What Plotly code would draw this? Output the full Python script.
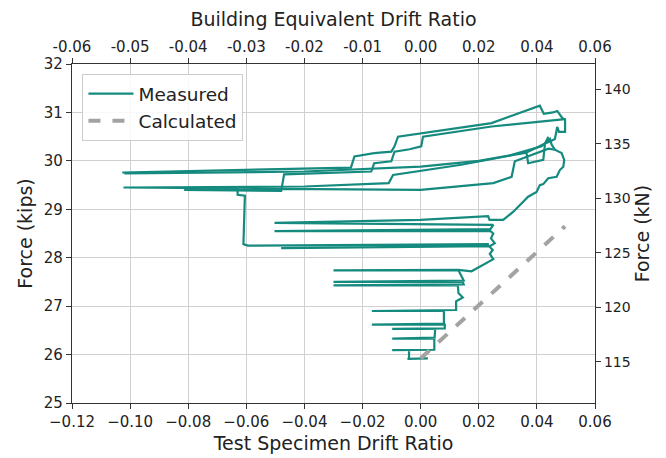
import plotly.graph_objects as go

KN_PER_KIP = 4.44822

# Measured response, stored as separate traced polylines (drift ratio, force in kips)
cyc_drift = [0.0000, 0.0025, -0.0045, -0.0040, -0.0040, -0.0098, 0.0047, 0.0047, -0.0098, 0.0048,
             0.0050, -0.0098, 0.0083, 0.0083, -0.0168, 0.0080, 0.0080, -0.0168, 0.0122, 0.0122,
             0.0145, 0.0130, 0.0128, -0.0300, 0.0148, 0.0145, -0.0300, 0.0148, 0.0130, -0.0300,
             0.0130, 0.0175, 0.0250, 0.0238, 0.0248, 0.0235, -0.0480, 0.0238, 0.0255, 0.0242,
             0.0250, 0.0240, -0.0503, 0.0240, 0.0250, -0.0503, 0.0000, 0.0232, 0.0237, 0.0284,
             0.0319, 0.0347, 0.0370, 0.0399, 0.0410, 0.0422, 0.0439, 0.0468, 0.0479, 0.0491,
             0.0494, 0.0485, 0.0462, 0.0451, 0.0445, 0.0416, 0.0300, 0.0140, -0.0095, -0.0110,
             -0.0400, -0.1023, -0.0630, -0.0630, -0.0605, -0.0610, -0.0595, 0.0235]
cyc_force = [25.92, 25.92, 25.91, 25.92, 26.09, 26.09, 26.10, 26.33, 26.33, 26.35,
             26.53, 26.53, 26.54, 26.62, 26.62, 26.64, 26.90, 26.90, 26.92, 27.10,
             27.18, 27.27, 27.43, 27.43, 27.45, 27.50, 27.50, 27.53, 27.74, 27.74,
             27.75, 27.72, 27.97, 28.08, 28.16, 28.24, 28.20, 28.24, 28.30, 28.40,
             28.50, 28.55, 28.55, 28.59, 28.68, 28.72, 28.78, 28.86, 28.78, 28.78,
             28.95, 29.12, 29.26, 29.36, 29.50, 29.52, 29.64, 29.67, 29.81, 29.88,
             30.02, 30.16, 30.23, 30.33, 30.45, 30.30, 30.10, 29.92, 29.71, 29.54,
             29.47, 29.45, 29.43, 29.30, 29.28, 28.28, 28.25, 28.28]

loop2_drift = [0.0497, 0.0244, 0.0008, 0.0002, -0.0038, -0.0090, -0.0101, -0.0160, -0.0170, -0.0470,
               -0.0480, -0.0814, -0.0480, 0.0000, 0.0250, 0.0313, 0.0324, 0.0382, 0.0440, 0.0462]
loop2_force = [30.86, 30.71, 30.50, 30.30, 30.24, 30.19, 29.99, 29.95, 29.78, 29.72,
               29.38, 29.40, 29.42, 29.40, 29.54, 29.67, 29.99, 30.12, 30.25, 30.23]

loop3_drift = [-0.1027, -0.0240, -0.0228, -0.0160, -0.0101, -0.0090, -0.0078, 0.0002, 0.0244, 0.0410,
               0.0424, 0.0455, 0.0470, 0.0488, 0.0497, 0.0497, 0.0476, 0.0470, 0.0462, 0.0445,
               0.0428, 0.0364, 0.0370, 0.0422, 0.0428, 0.0440]
loop3_force = [29.76, 29.86, 30.09, 30.16, 30.19, 30.30, 30.50, 30.57, 30.78, 31.14,
               30.97, 31.00, 31.03, 30.88, 30.86, 30.60, 30.60, 30.70, 30.45, 30.40,
               30.36, 30.17, 29.95, 30.02, 30.36, 30.50]

loop4_drift = [-0.1020, -0.0400, 0.0000, 0.0200, 0.0364]
loop4_force = [29.74, 29.78, 29.88, 30.00, 30.17]

calc_drift = [0.0, 0.0497]
calc_force = [25.92, 28.65]

x_ticks = [-0.12, -0.10, -0.08, -0.06, -0.04, -0.02, 0.00, 0.02, 0.04, 0.06]
x_ticktext = ["\u22120.12", "\u22120.10", "\u22120.08", "\u22120.06", "\u22120.04", "\u22120.02",
              "0.00", "0.02", "0.04", "0.06"]
top_ticktext = ["-0.06", "-0.05", "-0.04", "-0.03", "-0.02", "-0.01", "0.00", "0.02", "0.04", "0.06"]
kip_ticks = [25, 26, 27, 28, 29, 30, 31, 32]
kn_ticks = [115, 120, 125, 130, 135, 140]

meas_x, meas_y = [], []
for dx, fy in [(cyc_drift, cyc_force), (loop2_drift, loop2_force),
               (loop3_drift, loop3_force), (loop4_drift, loop4_force)]:
    meas_x += dx + [None]
    meas_y += fy + [None]

TEAL = "#158a7e"
FONT = "DejaVu Sans"

fig = go.Figure()
fig.add_trace(go.Scatter(x=meas_x, y=meas_y, mode="lines", name="Measured",
                         line=dict(color=TEAL, width=2.2), connectgaps=False))
fig.add_trace(go.Scatter(x=calc_drift, y=calc_force, mode="lines", name="Calculated",
                         line=dict(color="#a3a3a3", width=4, dash="dash")))
# invisible trace to activate the secondary axes
fig.add_trace(go.Scatter(x=[0], y=[120], xaxis="x2", yaxis="y2", mode="markers",
                         marker=dict(opacity=0), showlegend=False, hoverinfo="skip"))

axis_common = dict(showline=True, linecolor="#333333", linewidth=1.2, ticks="outside",
                   ticklen=5, tickcolor="#333333", zeroline=False, automargin=False)

fig.update_layout(
    width=658, height=450,
    margin=dict(l=64, r=71, t=56, b=55),
    paper_bgcolor="white", plot_bgcolor="white",
    font=dict(family=FONT, color="#222222"),
    xaxis=dict(range=[-0.12, 0.06], tickvals=x_ticks, ticktext=x_ticktext,
               showgrid=True, gridcolor="#d0d0d0", gridwidth=1.2,
               tickfont=dict(size=15), title=dict(text="Test Specimen Drift Ratio",
                                                 font=dict(size=19), standoff=6),
               **axis_common),
    xaxis2=dict(range=[-0.12, 0.06], tickvals=x_ticks, ticktext=top_ticktext,
                overlaying="x", side="top", showgrid=False, anchor="y",
                tickfont=dict(size=15), title=dict(text="Building Equivalent Drift Ratio",
                                                    font=dict(size=19), standoff=10),
                **axis_common),
    yaxis=dict(range=[25, 32], tickvals=kip_ticks, showgrid=True, gridcolor="#d0d0d0",
               gridwidth=1.2, tickfont=dict(size=15),
               title=dict(text="Force (kips)", font=dict(size=19), standoff=6),
               **axis_common),
    yaxis2=dict(range=[25 * KN_PER_KIP, 32 * KN_PER_KIP], tickvals=kn_ticks,
                overlaying="y", side="right", showgrid=False, anchor="x",
                tickfont=dict(size=14),
                title=dict(text="Force (kN)", font=dict(size=19), standoff=0),
                **axis_common),
    legend=dict(x=0.02, y=0.97, xanchor="left", yanchor="top",
                bgcolor="rgba(255,255,255,0.85)", bordercolor="#cccccc", borderwidth=1,
                font=dict(size=18.5), itemwidth=45, tracegroupgap=2),
    showlegend=True,
)

fig.write_html("out.html")
